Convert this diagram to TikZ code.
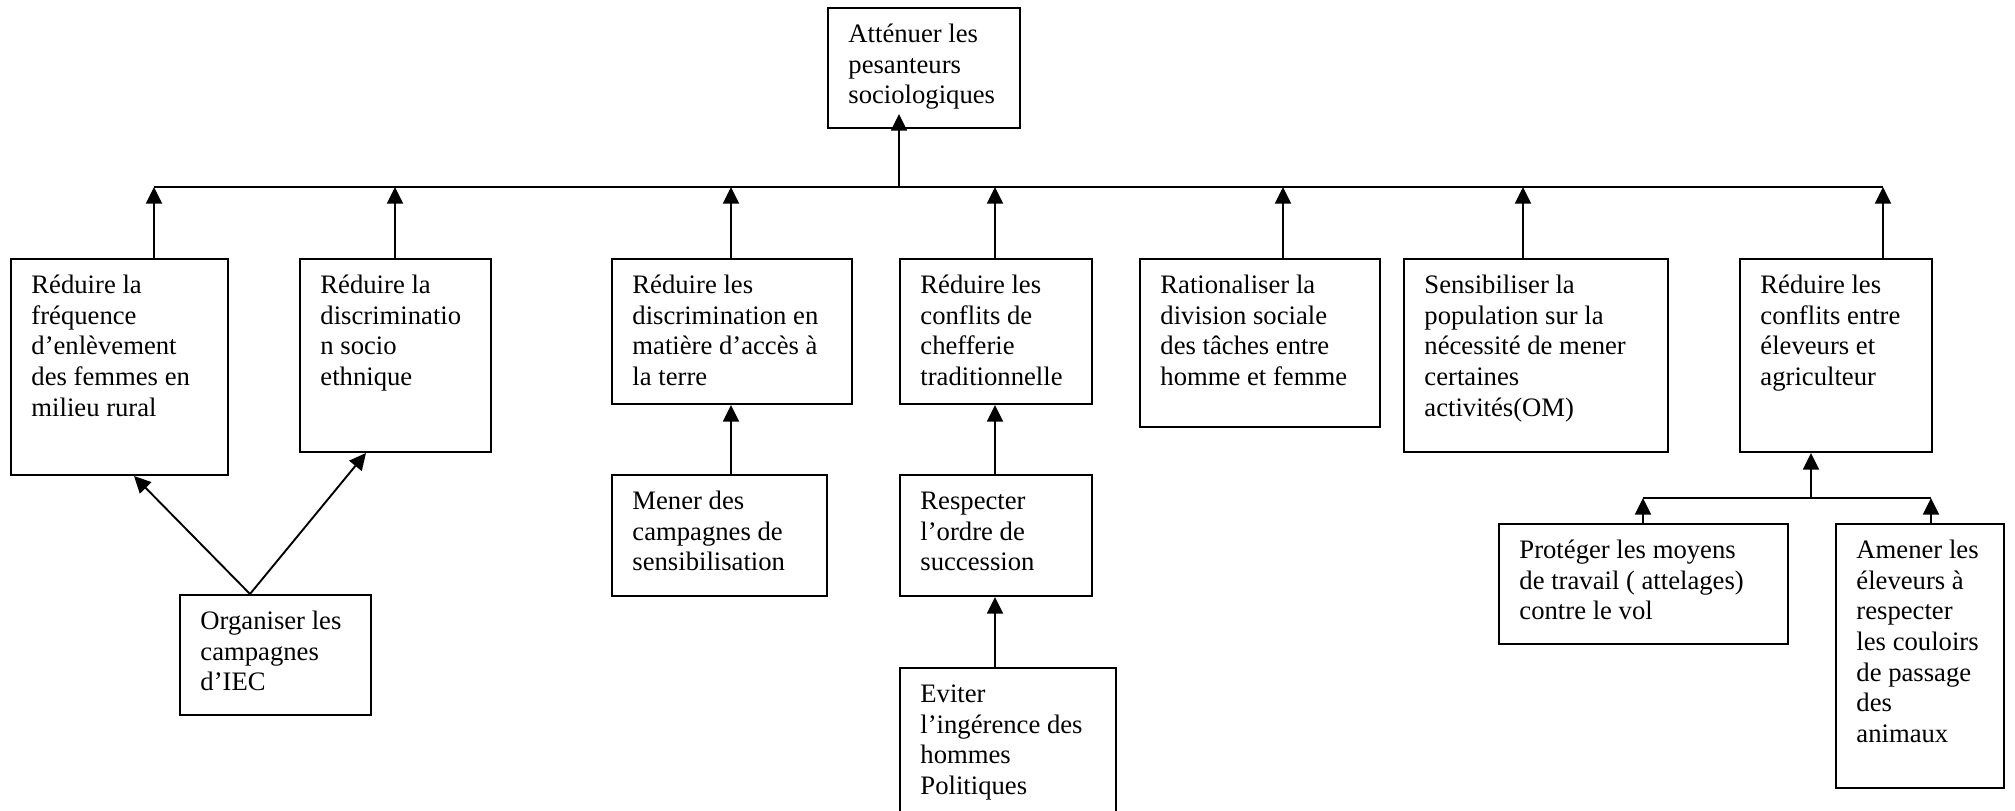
\documentclass[tikz,border=0pt]{standalone}
\usepackage{fontspec}
\setmainfont{Liberation Serif}
\usetikzlibrary{arrows.meta}

% Framed box with its text set from the top left corner:
% #1 name, #2 x, #3 y (top left), #4 width, #5 height, #6 text
\newcommand{\tbox}[6]{%
  \node[frame, minimum width={#4*0.45pt}, minimum height={#5*0.45pt}] (#1) at (#2,#3) {};
  \node[boxtext] (#1-txt) at ({#2+21},{#3+13.5}) {\strut #6};%
}

\begin{document}
\begin{tikzpicture}[x=0.45pt,y=-0.45pt,
  frame/.style={draw, line width=0.9pt, inner sep=0pt, anchor=north west},
  boxtext/.style={anchor=north west, inner sep=0pt, align=left,
    font=\fontsize{12}{13.8}\selectfont},
  link/.style={line width=0.85pt},
  arr/.style={link, -{Triangle[length=7.5pt,width=7.2pt]}},
  bus/.style={line width=0.9pt}]

\useasboundingbox (0,0) rectangle (2015,810);
\clip (0,0) rectangle (2015,810);

% goal
\tbox{top}{827}{7}{192}{120}{Atténuer les\\pesanteurs\\sociologiques}

% second level
\tbox{b1}{10}{258}{217}{216}{Réduire la\\fréquence\\d’enlèvement\\des femmes en\\milieu rural}
\tbox{b2}{299}{258}{191}{193}{Réduire la\\discriminatio\\n socio\\ethnique}
\tbox{b3}{611}{258}{240}{145}{Réduire les\\discrimination en\\matière d’accès à\\la terre}
\tbox{b4}{899}{258}{192}{145}{Réduire les\\conflits de\\chefferie\\traditionnelle}
\tbox{b5}{1139}{258}{240}{168}{Rationaliser la\\division sociale\\des tâches entre\\homme et femme}
\tbox{b6}{1403}{258}{264}{193}{Sensibiliser la\\population sur la\\nécessité de mener\\certaines\\activités(OM)}
\tbox{b7}{1739}{258}{192}{193}{Réduire les\\conflits entre\\éleveurs et\\agriculteur}

% third level
\tbox{org}{179}{594}{191}{120}{Organiser les\\campagnes\\d’IEC}
\tbox{c3}{611}{474}{215}{121}{Mener des\\campagnes de\\sensibilisation}
\tbox{c4}{899}{474}{192}{121}{Respecter\\l’ordre de\\succession}
\tbox{d4}{899}{667}{216}{200}{Eviter\\l’ingérence des\\hommes\\Politiques}
\tbox{p1}{1498}{523}{289}{120}{Protéger les moyens\\de travail ( attelages)\\contre le vol}
\tbox{p2}{1835}{523}{168}{264}{Amener les\\éleveurs à\\respecter\\les couloirs\\de passage\\des\\animaux}

% main bus
\coordinate (hub) at (899,187);
\coordinate (hubtip) at (899,114);
\coordinate (j1) at (154,187);
\coordinate (j2) at (395,187);
\coordinate (j3) at (731,187);
\coordinate (j4) at (995,187);
\coordinate (j5) at (1283,187);
\coordinate (j6) at (1523,187);
\coordinate (j7) at (1883,187);
\draw[bus] (j1) -- (j7);
\draw[arr] (hub) -- (hubtip);
\foreach \i in {1,...,7} {
  \draw[arr] (j\i |- b\i.north) -- (j\i);
}

% lower links
\draw[arr] (j3 |- c3.north) -- (j3 |- b3.south);
\draw[arr] (j4 |- c4.north) -- (j4 |- b4.south);
\draw[arr] (j4 |- d4.north) -- (j4 |- c4.south);

\coordinate (orgtop) at (250,594);
\path (b1.south west) ++(124,0) coordinate (t1);
\path (b2.south west) ++(67,0) coordinate (t2);
\draw[arr] (orgtop) -- (t1);
\draw[arr] (orgtop) -- (t2);

% sub bus under the last box
\coordinate (sub) at (1811,498);
\coordinate (s1) at (1643,498);
\coordinate (s2) at (1931,498);
\draw[bus] (s1) -- (s2);
\draw[arr] (sub) -- (sub |- b7.south);
\draw[arr] (s1 |- p1.north) -- (s1);
\draw[arr] (s2 |- p2.north) -- (s2);
\end{tikzpicture}
\end{document}
